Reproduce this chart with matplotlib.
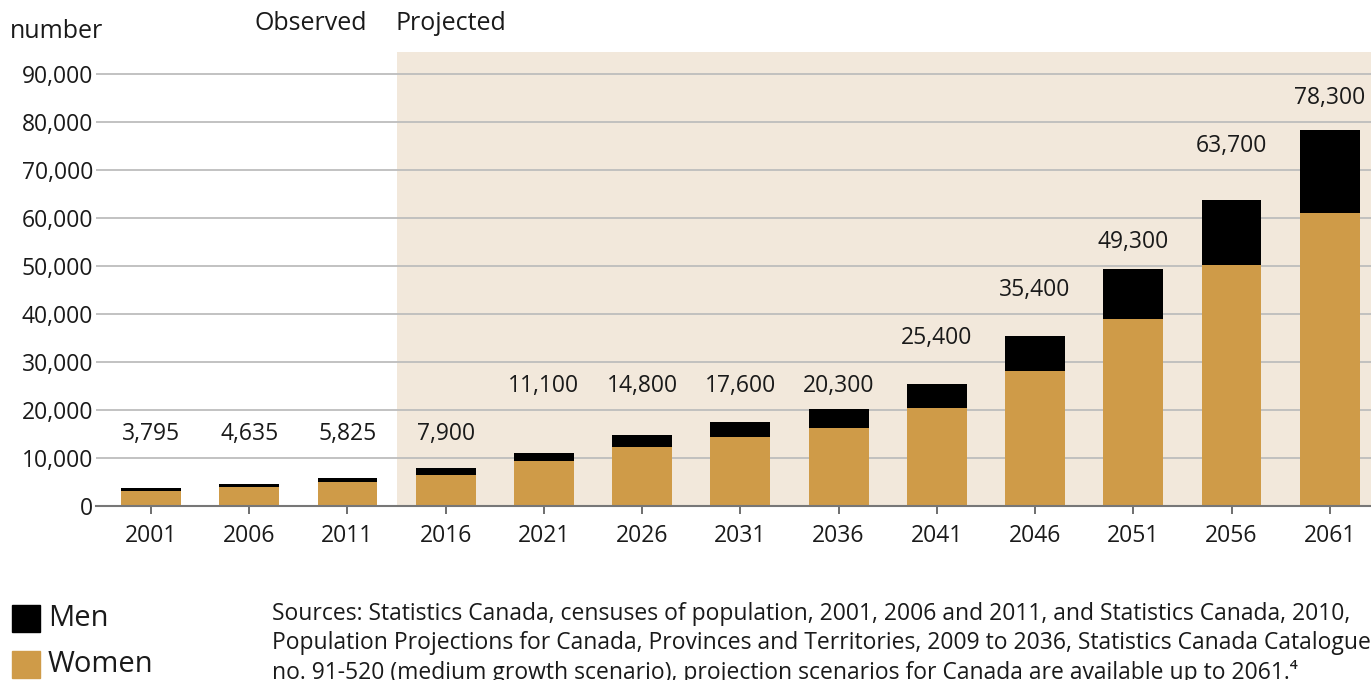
import matplotlib
matplotlib.use("Agg")
import matplotlib.pyplot as plt
import numpy as np

years = ["2001", "2006", "2011", "2016", "2021", "2026", "2031", "2036",
         "2041", "2046", "2051", "2056", "2061"]
totals = [3795, 4635, 5825, 7900, 11100, 14800, 17600, 20300,
          25400, 35400, 49300, 63700, 78300]
women = [3100, 3900, 5000, 6450, 9400, 12300, 14400, 16250,
         20400, 28100, 39000, 50200, 61000]
men = [t - w for t, w in zip(totals, women)]
yticks = [0, 10000, 20000, 30000, 40000, 50000, 60000, 70000, 80000, 90000]
n_observed = 3

plt.rcParams['font.family'] = ['Open Sans', 'DejaVu Sans']
TXT = '#1a1a1a'
ORANGE = '#CF9B48'
SHADE = '#F2E8DB'
FS = 16.5
FW = 18

fig = plt.figure(figsize=(13.71, 6.80), dpi=100)
ax = fig.add_axes([96/1371, (680-506)/680, 1 - 96/1371, (506-52)/680])

x = np.arange(len(years))
w = 0.61
ax.bar(x, women, width=w, color=ORANGE, zorder=3)
ax.bar(x, men, width=w, bottom=women, color='black', zorder=3)

ax.set_xlim(-0.56, 12.42)
ax.set_ylim(0, 94600)
ax.axvspan(n_observed - 0.5, 12.42, color=SHADE, zorder=0, lw=0)

for yt in yticks[1:]:
    ax.axhline(yt, color='#bdbdbd', lw=1.3, zorder=1)

for xi, t in zip(x, totals):
    level = (np.floor((t - 500) / 10000) + 1.5) * 10000
    ax.text(xi, level, f"{t:,}", ha='center', va='center', fontsize=FS, color=TXT, zorder=4)

ax.set_yticks(yticks)
ax.set_yticklabels([f"{v:,}" for v in yticks], fontsize=FS, color=TXT)
ax.set_xticks(x)
ax.set_xticklabels(years, fontsize=FS, color=TXT)
ax.tick_params(axis='y', length=0, pad=2)
ax.tick_params(axis='x', length=6, width=1.2, color='#555555', pad=7, direction='out')
for s in ['top', 'right', 'left']:
    ax.spines[s].set_visible(False)
ax.spines['bottom'].set_color('#777777')
ax.spines['bottom'].set_linewidth(1.5)
ax.spines['bottom'].set_zorder(5)

fig.text(10/1371, 1 - 31/680, "number", fontsize=FW, color=TXT, ha='left', va='center')
fig.text(367/1371, 1 - 24/680, "Observed", fontsize=FW, color=TXT, ha='right', va='center')
fig.text(395/1371, 1 - 24/680, "Projected", fontsize=FW, color=TXT, ha='left', va='center')

# legend
fig.patches.append(plt.Rectangle((12/1371, 1 - 632/680), 28/1371, 27/680,
                                 transform=fig.transFigure, color='black'))
fig.patches.append(plt.Rectangle((12/1371, 1 - 678/680), 28/1371, 27/680,
                                 transform=fig.transFigure, color=ORANGE))
fig.text(48/1371, 1 - 619/680, "Men", fontsize=21, color=TXT, ha='left', va='center')
fig.text(48/1371, 1 - 665/680, "Women", fontsize=21, color=TXT, ha='left', va='center')

src = ("Sources: Statistics Canada, censuses of population, 2001, 2006 and 2011, and Statistics Canada, 2010,\n"
       "Population Projections for Canada, Provinces and Territories, 2009 to 2036, Statistics Canada Catalogue\n"
       "no. 91-520 (medium growth scenario), projection scenarios for Canada are available up to 2061.\u2074")
fig.text(272/1371, 1 - 602/680, src, fontsize=16.5, color=TXT, ha='left', va='top', linespacing=1.27)

fig.savefig("out.png", dpi=100)
